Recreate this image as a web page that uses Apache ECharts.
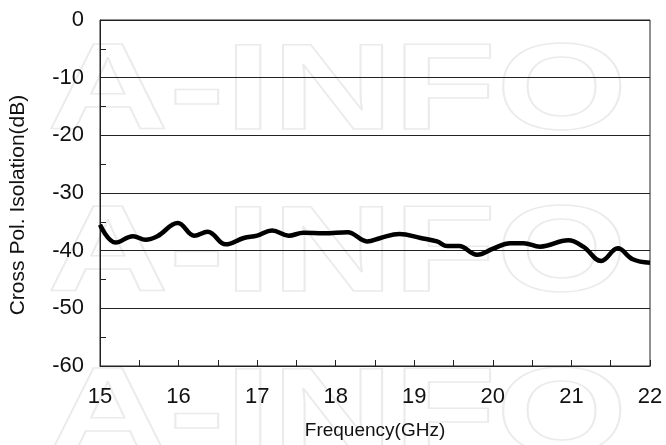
<!DOCTYPE html>
<html><head><meta charset="utf-8">
<script src="https://cdn.jsdelivr.net/npm/echarts@6/dist/echarts.min.js"></script>
<style>html,body{margin:0;padding:0;background:#fff}#c{width:666px;height:445px}</style>
</head><body><div id="c"></div>
<script>
const freqGHz = [15.0, 15.2, 15.42, 15.58, 15.73, 15.99, 16.2, 16.37, 16.6, 16.83, 17.0, 17.19, 17.4, 17.59, 17.85, 18.15, 18.4, 18.57, 18.81, 19.08, 19.29, 19.42, 19.57, 19.8, 20.01, 20.22, 20.39, 20.6, 20.96, 21.15, 21.38, 21.59, 21.78, 22.0];
const isolationDB = [-35.5, -38.6, -37.5, -38.1, -37.5, -35.2, -37.4, -36.7, -38.9, -37.8, -37.4, -36.5, -37.4, -36.9, -37.0, -36.8, -38.4, -37.8, -37.1, -37.8, -38.4, -39.2, -39.2, -40.7, -39.6, -38.7, -38.7, -39.3, -38.2, -39.3, -41.8, -39.6, -41.5, -42.1];
const yTicks = [0, -10, -20, -30, -40, -50, -60];
const xTicks = [15, 16, 17, 18, 19, 20, 21, 22];
const watermark = 'A-INFO';

const chart = echarts.init(document.getElementById('c'), null, {renderer: 'canvas'});
const font = 'Liberation Sans, Arial, sans-serif';
chart.setOption({
  animation: false,
  backgroundColor: '#fff',
  grid: {left: 99, top: 20, right: 16, bottom: 79, show: true, borderColor: '#222', borderWidth: 1, backgroundColor: 'transparent'},
  graphic: [0, 1, 2].map(i => ({
    type: 'text', z: -10, silent: true,
    left: 46, top: 33 + i * 162,
    scaleX: 1.37,
    style: {text: watermark, font: 'bold 123px ' + font, fill: 'rgba(0,0,0,0)', stroke: '#ebebeb', lineWidth: 1.5}
  })),
  xAxis: {
    type: 'value', min: xTicks[0], max: xTicks[xTicks.length - 1], interval: 1,
    name: 'Frequency(GHz)', nameLocation: 'middle', nameGap: 55,
    nameTextStyle: {fontFamily: font, fontSize: 19, color: '#111'},
    axisLine: {show: true, onZero: false, lineStyle: {color: '#222', width: 1}},
    axisTick: {show: true, inside: true, length: 6, lineStyle: {color: '#222'}},
    minorTick: {show: true, splitNumber: 2, length: 6, lineStyle: {color: '#222'}},
    axisLabel: {fontFamily: font, fontSize: 22, color: '#111', margin: 20},
    splitLine: {show: false}
  },
  yAxis: {
    type: 'value', min: yTicks[yTicks.length - 1], max: yTicks[0], interval: 10,
    name: 'Cross Pol. Isolation(dB)', nameLocation: 'middle', nameGap: 71,
    nameTextStyle: {fontFamily: font, fontSize: 21, color: '#111', padding: [0, 24, 0, 0]},
    axisLine: {show: true, onZero: false, lineStyle: {color: '#222', width: 1}},
    axisTick: {show: true, inside: true, length: 6, lineStyle: {color: '#222'}},
    minorTick: {show: true, splitNumber: 2, length: 6, lineStyle: {color: '#222'}},
    axisLabel: {fontFamily: font, fontSize: 22, color: '#111', margin: 16},
    splitLine: {show: true, lineStyle: {color: '#222', width: 1}}
  },
  series: [{
    type: 'line', smooth: 0.4, showSymbol: false,
    data: freqGHz.map((f, i) => [f, isolationDB[i]]),
    lineStyle: {color: '#000', width: 4.5}
  }]
});
</script></body></html>
